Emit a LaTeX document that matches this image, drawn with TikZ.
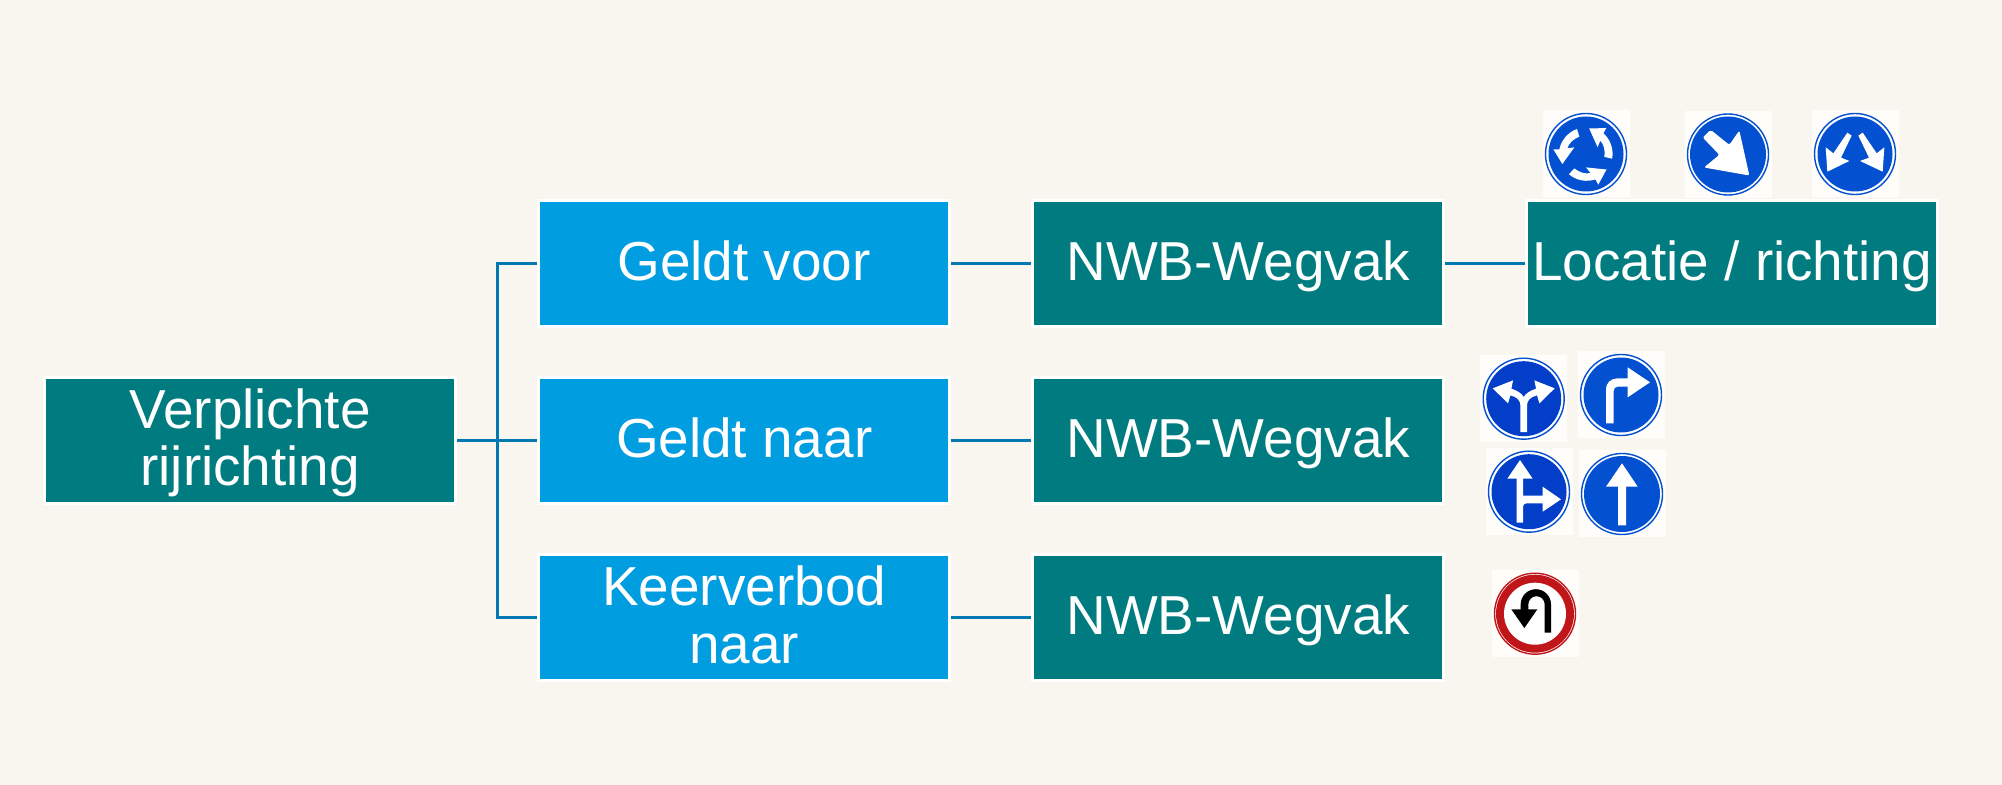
\documentclass[tikz,border=0pt]{standalone}
\usepackage{fontspec}
\setmainfont{Liberation Sans}
\usepackage{tikz}
\usetikzlibrary{positioning}
\definecolor{pagebg}{RGB}{249,246,239}
\definecolor{tealbox}{RGB}{0,124,128}
\definecolor{bluebox}{RGB}{0,157,224}
\definecolor{linkblue}{RGB}{0,120,178}
\definecolor{signblue}{RGB}{3,80,208}
\definecolor{signdeep}{RGB}{2,62,200}
\definecolor{signred}{RGB}{192,22,26}
\definecolor{signpaper}{RGB}{255,253,250}
\newcommand{\rowstrut}{\rule[-6pt]{0pt}{28.6pt}}
\newcommand{\toprow}{\rule{0pt}{22.9pt}}
\tikzstyle{block} = [rectangle, draw=white, line width=1.5pt, fill=tealbox, text=white,
minimum width=205.75pt, minimum height=63pt, inner sep=0pt, align=center,
execute at begin node=\rowstrut, execute at end node=\rowstrut]
\tikzstyle{block2} = [block, fill=bluebox]
\tikzstyle{line} = [draw=linkblue, line width=1.5pt]
\tikzstyle{signbox} = [rectangle, fill=signpaper, minimum size=43.5pt, inner sep=0pt]
\tikzstyle{ring} = [fill=white, line width=0.7pt]
\tikzstyle{glyph} = [fill=white]
\newcommand{\signbase}[3]{%
	\node [signbox] (#1) at (#2) {};
	\path [ring, draw=#3] (#1) circle (40.5);
}
\begin{document}
\begin{tikzpicture}[x=0.5pt, y=-0.5pt, node distance = 24pt and 39.75pt, every node/.style={font=\fontsize{27.45}{28.6}\selectfont}]
	\useasboundingbox [fill=pagebg] (0,0) rectangle (2002,785);
	
	% Main boxes
	\node [block] (verplicht) at (250.2,440.5) {\toprow Verplichte\\rijrichting};
	\node [block2, right=of verplicht] (naar) {Geldt naar};
	\node [block2, above=of naar] (voor) {Geldt voor};
	\node [block2, below=of naar] (keer) {\toprow Keerverbod\\naar};
	\node [block, right=of voor] (wegvak1) {NWB-Wegvak};
	\node [block, right=of naar] (wegvak2) {NWB-Wegvak};
	\node [block, right=of keer] (wegvak3) {NWB-Wegvak};
	\node [block, right=of wegvak1] (locatie) {Locatie / richting};
	
	% Edges
	\coordinate (trunk) at (497,440.5);
	\path [line] (verplicht) -- (naar);
	\path [line] (voor.west) -| (trunk) |- (keer.west);
	\path [line] (voor) -- (wegvak1);
	\path [line] (naar) -- (wegvak2);
	\path [line] (keer) -- (wegvak3);
	\path [line] (wegvak1) -- (locatie);
	
	% Signs above the location box
	\signbase{rotonde}{1586,154}{signblue}
	\fill [signblue] (rotonde) circle (37.5);
	\begin{scope}[shift={(rotonde)}, scale=0.3333]
		\foreach \turn in {0,120,240}
		\fill [glyph, rotate=\turn] (-27,-75) .. controls (-55,-65) and (-75,-40) .. (-80,-14)
		-- (-98,-14) -- (-71,30) -- (-35,-20) -- (-56,-17)
		.. controls (-52,-32) and (-38,-45) .. (-20,-52) -- cycle;
	\end{scope}
	
	\signbase{schuin}{1728,154.5}{signblue}
	\fill [signblue] (schuin) circle (38);
	\begin{scope}[shift={(schuin)}, scale=0.3333]
		\fill [glyph, rounded corners=1pt] (-52,-74) -- (4,-29) -- (34,-72) -- (64,63) -- (-72,39) -- (-26,1) -- (-76,-51) -- cycle;
	\end{scope}
	
	\signbase{beide}{1855,154}{signblue}
	\fill [signblue] (beide) circle (37.5);
	\begin{scope}[shift={(beide)}, scale=0.3333]
		\fill [glyph] (-23,-64) -- (-10,-55) -- (-42,11) -- (-17,21) -- (-83,53) -- (-88,-20) -- (-65,-2) -- cycle;
		\fill [glyph] (23,-64) -- (10,-55) -- (42,11) -- (15,21) -- (83,53) -- (88,-20) -- (65,-2) -- cycle;
	\end{scope}
	
	% Signs of the middle row
	\signbase{splits}{1523.7,398.7}{signblue}
	\fill [signdeep] (splits) circle (37.5);
	\begin{scope}[shift={(splits)}, scale=0.3333]
		\fill [glyph] (-10,100) -- (-10,20) .. controls (-10,5) and (-20,-5) .. (-40,-10) -- (-47,14) -- (-93,-31) -- (-32,-55) -- (-37,-30)
		.. controls (-20,-25) and (-5,-15) .. (0,-5) .. controls (5,-15) and (20,-25) .. (37,-30)
		-- (32,-55) -- (93,-31) -- (47,14) -- (40,-10) .. controls (20,-5) and (10,5) .. (10,20) -- (10,100) -- cycle;
	\end{scope}
	
	\signbase{rechtsaf}{1621,395}{signblue}
	\fill [signblue] (rechtsaf) circle (37.5);
	\begin{scope}[shift={(rechtsaf)}, scale=0.3333]
		\fill [glyph] (-45,85) -- (-45,-15) .. controls (-45,-38) and (-30,-50) .. (-10,-50) -- (20,-50) -- (20,-83) -- (87,-38) -- (20,7) -- (20,-25) -- (-10,-25)
		.. controls (-17,-25) and (-22,-20) .. (-22,-12) -- (-22,85) -- cycle;
	\end{scope}
	
	\signbase{rechtdoorrechts}{1529,491.7}{signblue}
	\fill [signdeep] (rechtdoorrechts) circle (37.5);
	\begin{scope}[shift={(rechtdoorrechts)}, scale=0.3333]
		\fill [glyph] (-37,93) -- (-37,-39) -- (-65,-39) -- (-27,-95) -- (11,-39) -- (-18,-39) -- (-18,12) -- (41,12) -- (41,-15) -- (96,23) -- (41,60) -- (41,35) -- (-8,35)
		.. controls (-14,35) and (-18,39) .. (-18,45) -- (-18,93) -- cycle;
	\end{scope}
	
	\signbase{rechtdoor}{1622,494}{signblue}
	\fill [signblue] (rechtdoor) circle (38);
	\begin{scope}[shift={(rechtdoor)}, scale=0.3333]
		\fill [glyph] (-12,94) -- (-12,-22) -- (-48,-22) -- (0,-92) -- (47,-22) -- (12,-22) -- (12,94) -- cycle;
	\end{scope}
	
	% Sign of the bottom row
	\signbase{keren}{1535,613.7}{signred}
	\path [fill=signred] (keren) circle (39);
	\fill [white] (keren) circle (31);
	\begin{scope}[shift={(keren)}, scale=0.3333]
		\fill [black] (29,57) -- (29,-28) arc (0:-180:24.5) -- (-20,-13) -- (7,-13) -- (-32,43) -- (-71,-13) -- (-43,-13) -- (-43,-28) arc (180:360:45.5) -- (48,57) -- cycle;
	\end{scope}
	
\end{tikzpicture}
\end{document}
